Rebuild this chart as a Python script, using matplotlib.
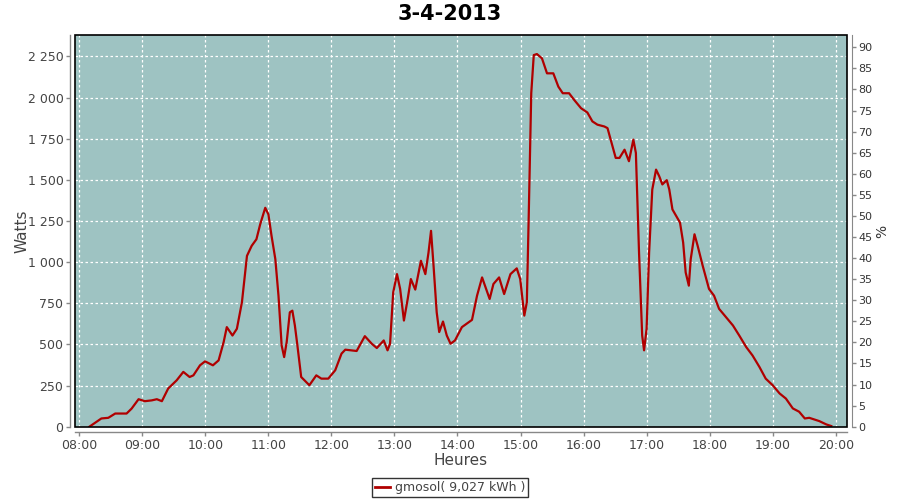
import matplotlib
matplotlib.use("Agg")
import matplotlib.pyplot as plt
from matplotlib.patches import Rectangle
from matplotlib.lines import Line2D
from matplotlib.ticker import FuncFormatter

title = "3-4-2013"
series_name = "gmosol( 9,027 kWh )"
x_label = "Heures"
y_label = "Watts"
y2_label = "%"

# time in decimal hours
hours = [8.16, 8.275, 8.35, 8.46, 8.57, 8.75, 8.83, 8.94, 9.04, 9.15, 9.23, 9.31,
         9.41, 9.545, 9.65, 9.75, 9.81, 9.915, 9.995, 10.12, 10.21, 10.29, 10.34,
         10.43, 10.50, 10.58, 10.66, 10.735, 10.81, 10.87, 10.95, 11.0, 11.05,
         11.11, 11.16, 11.21, 11.25, 11.29, 11.34, 11.38, 11.42, 11.46, 11.52,
         11.65, 11.76, 11.84, 11.95, 12.06, 12.16, 12.22, 12.40, 12.53, 12.64,
         12.72, 12.83, 12.89, 12.93, 12.98, 13.04, 13.09, 13.15, 13.21, 13.26,
         13.33, 13.42, 13.49, 13.54, 13.58, 13.62, 13.67, 13.71, 13.77, 13.83,
         13.89, 13.96, 14.07, 14.23, 14.31, 14.39, 14.51, 14.57, 14.66, 14.74,
         14.84, 14.94, 14.995, 15.06, 15.10, 15.13, 15.17, 15.21, 15.26, 15.34,
         15.42, 15.52, 15.60, 15.67, 15.77, 15.85, 15.96, 16.06, 16.14, 16.22,
         16.33, 16.38, 16.43, 16.51, 16.57, 16.65, 16.72, 16.79, 16.83, 16.88,
         16.93, 16.96, 17.0, 17.04, 17.09, 17.15, 17.20, 17.25, 17.32, 17.36,
         17.41, 17.47, 17.53, 17.58, 17.62, 17.67, 17.70, 17.76, 17.81, 17.89,
         17.99, 18.07, 18.15, 18.26, 18.37, 18.47, 18.58, 18.68, 18.79, 18.89,
         19.0, 19.11, 19.21, 19.32, 19.42, 19.51, 19.58, 19.74, 19.85, 19.93]
watts = [0, 30, 50, 54, 80, 80, 110, 167, 155, 160, 167, 155,
         232, 282, 333, 302, 312, 373, 397, 373, 403, 514, 605,
         554, 595, 756, 1038, 1099, 1139, 1230, 1330, 1290, 1159,
         1018, 796, 494, 423, 514, 695, 705, 615, 494, 302,
         252, 312, 292, 292, 343, 444, 468, 460, 550, 504,
         478, 524, 464, 504, 816, 927, 837, 645, 776, 897,
         833, 1008, 927, 1058, 1190, 978, 695, 575, 639, 554,
         504, 524, 605, 649, 796, 907, 776, 867, 907, 806,
         927, 962, 897, 675, 756, 1280, 2026, 2258, 2264, 2238,
         2147, 2147, 2066, 2026, 2026, 1986, 1935, 1909, 1855, 1835,
         1824, 1814, 1744, 1633, 1633, 1683, 1613, 1744, 1663, 1058,
         554, 464, 595, 1058, 1441, 1562, 1522, 1472, 1498, 1441,
         1320, 1280, 1240, 1119, 937, 857, 1018, 1169, 1099, 978,
         837, 796, 716, 665, 615, 554, 484, 433, 363, 292,
         252, 202, 171, 111, 91, 50, 54, 34, 14, 4]

x_ticks = [8, 9, 10, 11, 12, 13, 14, 15, 16, 17, 18, 19, 20]
x_tick_labels = ["08:00", "09:00", "10:00", "11:00", "12:00", "13:00", "14:00",
                 "15:00", "16:00", "17:00", "18:00", "19:00", "20:00"]
y_ticks = [0, 250, 500, 750, 1000, 1250, 1500, 1750, 2000, 2250]
y2_ticks = list(range(0, 95, 5))

bg = "#9ec3c2"
line_color = "#b00000"
tick_color = "#444444"
spine_color = "#888888"

plt.rcParams['font.family'] = ['DejaVu Sans']
fig = plt.figure(figsize=(9, 5), dpi=100)
ax = fig.add_axes([75.3 / 900, 1 - 426.7 / 500, (846.7 - 75.3) / 900, (426.7 - 35.3) / 500])
ax.set_facecolor(bg)

ax.plot(hours, watts, color=line_color, lw=1.6, solid_joinstyle='round', zorder=3)

x_left = 8 - 4.0 / 63
x_right = 20 + 11.0 / 63
ax.set_xlim(x_left, x_right)
ax.set_ylim(0, 2378)

ax.set_xticks(x_ticks)
ax.set_xticklabels(x_tick_labels)
ax.set_yticks(y_ticks)
ax.yaxis.set_major_formatter(FuncFormatter(lambda v, p: f"{int(v):,}".replace(",", " ")))

ax.grid(True, color="white", linestyle=(0, (2, 2)), linewidth=0.9)
ax.set_axisbelow(True)

# black frame of plot area
frame = Rectangle((0, 0), 1, 1, transform=ax.transAxes, fill=False,
                  edgecolor="black", linewidth=1.2, zorder=5, clip_on=False)
ax.add_patch(frame)

for s in ["top", "right"]:
    ax.spines[s].set_visible(False)
for s in ["left", "bottom"]:
    ax.spines[s].set_position(("outward", 3.5))
    ax.spines[s].set_color(spine_color)
    ax.spines[s].set_linewidth(1.0)

ax.tick_params(axis="both", colors=spine_color, length=3, width=1, labelsize=9,
               labelcolor=tick_color, pad=2)

ax2 = ax.twinx()
ax2.set_ylim(0, 92.85)
ax2.set_yticks(y2_ticks)
for s in ["top", "left", "bottom"]:
    ax2.spines[s].set_visible(False)
ax2.spines["right"].set_position(("outward", 3.5))
ax2.spines["right"].set_color(spine_color)
ax2.tick_params(axis="y", colors=spine_color, length=3, width=1, labelsize=8,
                labelcolor="#333333", pad=2)

ax.set_xlabel(x_label, fontsize=11, color=tick_color)
ax.set_ylabel(y_label, fontsize=11, color=tick_color)
ax2.set_ylabel(y2_label, fontsize=10, color="#333333")
ax.xaxis.set_label_coords(0.5, -(453 - 426.7) / 391.4)
ax.yaxis.set_label_coords((30 - 75.3) / 771.4, 0.5)
ax2.yaxis.set_label_coords((875 - 75.3) / 771.4, 0.5)

fig.text(0.5, 1 - 14.0 / 500, title, ha="center", va="center",
         fontsize=15, fontweight="bold", color="black")

handle = Line2D([0], [0], color=line_color, lw=2)
leg = fig.legend([handle], [series_name], loc="center", bbox_to_anchor=(0.5, 1 - 487.5 / 500),
                 frameon=True, fancybox=False, fontsize=9, handlelength=1.2,
                 handletextpad=0.4, borderpad=0.25, borderaxespad=0)
leg.get_frame().set_edgecolor("black")
leg.get_frame().set_linewidth(1.0)
for t in leg.get_texts():
    t.set_color(tick_color)

fig.savefig("out.png", dpi=100)
